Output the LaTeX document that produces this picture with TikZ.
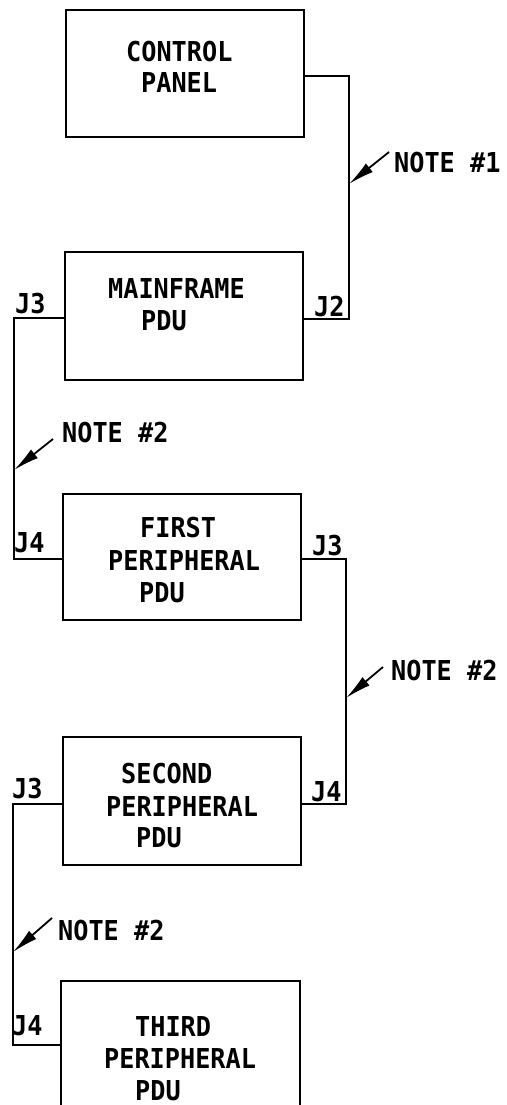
\documentclass[tikz,border=0pt]{standalone}
\usepackage{fontspec}
\newfontfamily\lettering[FakeStretch=0.92]{DejaVu Sans Mono Bold}
\usetikzlibrary{arrows.meta}
\begin{document}
\begin{tikzpicture}[x=1pt,y=-1pt,
  box/.style={draw,line width=2.4pt,minimum width=238pt,inner sep=0pt},
  wire/.style={line width=2pt},
  notearrow/.style={line width=1.8pt,-{Latex[length=26pt,width=11pt]}},
  txt/.style={inner sep=0pt,anchor=base west,font=\lettering\fontsize{27.4pt}{32pt}\selectfont}]
\useasboundingbox (0,0) rectangle (506,1105);
% boxes
\node[box,minimum height=127pt] (b1) at (185,73.5) {};
\node[box,minimum height=128pt] (b2) at (184,316) {};
\node[box,minimum height=126pt] (b3) at (182,557) {};
\node[box,minimum height=128pt] (b4) at (182,801) {};
\node[box,minimum height=128pt,minimum width=239pt] (b5) at (180.5,1045) {};
% box texts
\node[txt] (l1a) at (126,61.7) {CONTROL};
\node[txt] (l1b) at (141,93) {PANEL};
\node[txt] (l2a) at (108,298) {MAINFRAME};
\node[txt] (l2b) at (141,330) {PDU};
\node[txt] (l3a) at (140,537) {FIRST};
\node[txt] (l3b) at (108,570) {PERIPHERAL};
\node[txt] (l3c) at (139,602) {PDU};
\node[txt] (l4a) at (121,783) {SECOND};
\node[txt] (l4b) at (106,816) {PERIPHERAL};
\node[txt] (l4c) at (136,847) {PDU};
\node[txt] (l5a) at (135,1036) {THIRD};
\node[txt] (l5b) at (104,1068) {PERIPHERAL};
\node[txt] (l5c) at (135,1100) {PDU};
% connector labels
\node[txt] (j2a) at (15,313) {J3};
\node[txt] (j2b) at (314,316) {J2};
\node[txt] (j3a) at (14,552) {J4};
\node[txt] (j3b) at (312,555) {J3};
\node[txt] (j4a) at (12,798) {J3};
\node[txt] (j4b) at (311,801) {J4};
\node[txt] (j5a) at (12,1035) {J4};
% bend points
\coordinate (k1) at (349,200);
\coordinate (k2) at (14,440);
\coordinate (k3) at (346,680);
\coordinate (k4) at (13,930);
% wires
\draw[wire] ([yshift=-2.5pt]b1.east) -| (k1) |- ([yshift=-3pt]b2.east);
\draw[wire] ([yshift=-2pt]b2.west) -| (k2) |- ([yshift=-2pt]b3.west);
\draw[wire] ([yshift=-2pt]b3.east) -| (k3) |- ([yshift=-3pt]b4.east);
\draw[wire] ([yshift=-3pt]b4.west) -| (k4) |- (b5.west);
% notes
\node[txt] (n1) at (394,172) {NOTE \#1};
\node[txt] (n2) at (62,442) {NOTE \#2};
\node[txt] (n3) at (391,680) {NOTE \#2};
\node[txt] (n4) at (58,940) {NOTE \#2};
\coordinate (s1) at (389,152); \coordinate (t1) at (349,184);
\coordinate (s2) at (53,439);  \coordinate (t2) at (14,470);
\coordinate (s3) at (383,667); \coordinate (t3) at (346,698);
\coordinate (s4) at (52,918);  \coordinate (t4) at (13,952);
\draw[notearrow] (s1) -- (t1);
\draw[notearrow] (s2) -- (t2);
\draw[notearrow] (s3) -- (t3);
\draw[notearrow] (s4) -- (t4);
\end{tikzpicture}
\end{document}
